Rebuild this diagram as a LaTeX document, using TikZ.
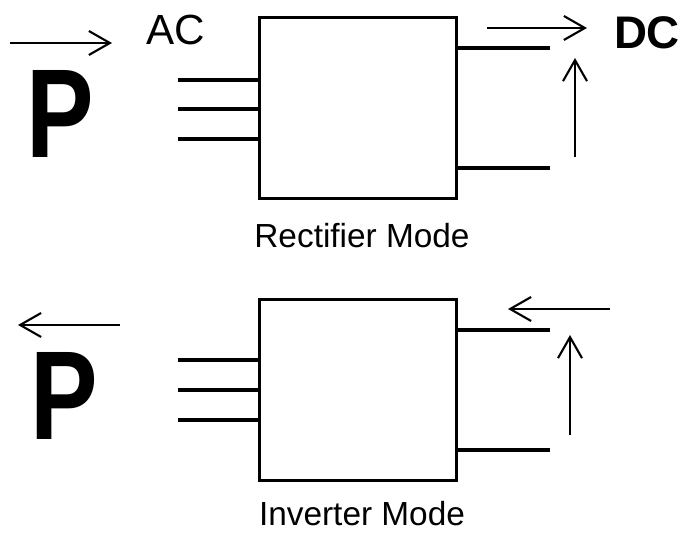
\documentclass[tikz,border=0pt]{standalone}
\usepackage{fontspec}
\setmainfont{Liberation Sans}
\usetikzlibrary{arrows.meta}

\begin{document}
\begin{tikzpicture}[x=0.02cm, y=-0.02cm,
    conv/.style={rectangle, draw, line width=1.2pt, minimum width=3.94cm, minimum height=3.62cm, inner sep=0pt},
    lead/.style={line width=2.8pt},
    flow/.style={line width=1.1pt, -{Straight Barb[length=0.42cm, width=0.48cm, line width=1.2pt]}},
    big/.style={font=\fontsize{72}{72}\selectfont\bfseries, inner sep=0pt},
    side/.style={font=\fontsize{24}{24}\selectfont, inner sep=0pt},
    caption/.style={font=\fontsize{19}{19}\selectfont, inner sep=0pt}]

    \useasboundingbox (0,0) rectangle (680,533);

    % Rectifier mode
    \node[conv] (rect) at (358,108) {};
    \node[big] (p1) at (60,114) {\scalebox{0.8}[1]{P}};
    \node[side] (ac) at (176,30) {AC};
    \node[side, font=\fontsize{26}{26}\selectfont\bfseries] (dc) at (647,33) {DC};
    \node[caption] (rcap) at (362,236) {Rectifier Mode};

    \coordinate (pa1) at (10,43);  \coordinate (pb1) at (112,43);
    \coordinate (da1) at (487,28); \coordinate (db1) at (587,28);
    \coordinate (va1) at (575,157); \coordinate (vb1) at (575,58);

    \foreach \y in {80,109,139}
        \draw[lead] (178,\y) -- (rect.west |- 0,\y);
    \foreach \y in {48,168}
        \draw[lead] (rect.east |- 0,\y) -- (550,\y);

    \draw[flow] (pa1) -- (pb1);
    \draw[flow] (da1) -- (db1);
    \draw[flow] (va1) -- (vb1);

    % Inverter mode
    \node[conv] (inv) at (358,390) {};
    \node[big] (p2) at (64,396) {\scalebox{0.8}[1]{P}};
    \node[caption] (icap) at (362,514) {Inverter Mode};

    \coordinate (pa2) at (120,325); \coordinate (pb2) at (18,325);
    \coordinate (da2) at (610,309); \coordinate (db2) at (508,309);
    \coordinate (va2) at (570,435); \coordinate (vb2) at (570,335);

    \foreach \y in {360,390,420}
        \draw[lead] (178,\y) -- (inv.west |- 0,\y);
    \foreach \y in {330,450}
        \draw[lead] (inv.east |- 0,\y) -- (550,\y);

    \draw[flow] (pa2) -- (pb2);
    \draw[flow] (da2) -- (db2);
    \draw[flow] (va2) -- (vb2);
\end{tikzpicture}
\end{document}
